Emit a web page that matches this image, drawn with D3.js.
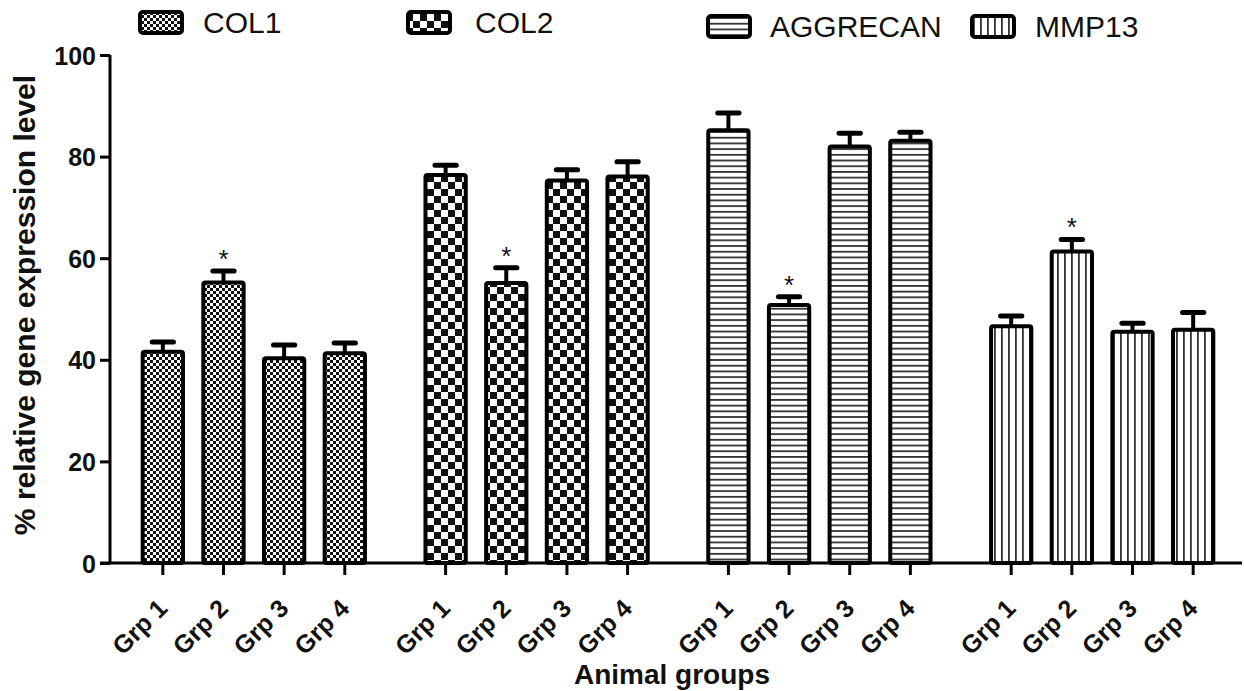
<!DOCTYPE html>
<html>
<head>
<meta charset="utf-8">
<script src="https://cdn.jsdelivr.net/npm/d3@7"></script>
<style>
  html, body { margin: 0; padding: 0; background: #fff; }
  svg { display: block; }
  text { font-family: Arial, "Liberation Sans", sans-serif; fill: #111; }
</style>
</head>
<body>
<svg id="chart" width="1244" height="691"></svg>
<script>
// ---- data ----
const genes = ["COL1", "COL2", "AGGRECAN", "MMP13"];
const groups = ["Grp 1", "Grp 2", "Grp 3", "Grp 4"];
const col1Values = [41.6, 55.2, 40.3, 41.3];
const col1Errors = [1.9, 2.3, 2.6, 2.0];
const col2Values = [76.4, 55.1, 75.3, 76.1];
const col2Errors = [1.9, 3.0, 2.1, 2.9];
const aggrecanValues = [85.2, 50.8, 82.0, 83.1];
const aggrecanErrors = [3.4, 1.6, 2.6, 1.7];
const mmp13Values = [46.6, 61.3, 45.5, 45.9];
const mmp13Errors = [2.0, 2.4, 1.7, 3.4];
const significantGroup = "Grp 2";
const yTicks = [0, 20, 40, 60, 80, 100];
const yTitle = "% relative gene expression level";
const xTitle = "Animal groups";

const seriesValues = [col1Values, col2Values, aggrecanValues, mmp13Values];
const seriesErrors = [col1Errors, col2Errors, aggrecanErrors, mmp13Errors];
const patternIds = ["pCol1", "pCol2", "pAgg", "pMmp"];

// ---- layout ----
const svg = d3.select("#chart");
const yTop = 55, yBottom = 563, xAxisLeft = 110, xAxisRight = 1242;

const y = d3.scaleLinear().domain([0, 100]).range([yBottom, yTop]);
const xOuter = d3.scaleBand().domain(genes).range([132.5, 1223.5]).paddingInner(0.142).paddingOuter(0);
const xInner = d3.scaleBand().domain(groups).range([0, xOuter.bandwidth()]).paddingInner(0.27).paddingOuter(0.135);

// ---- patterns ----
const defs = svg.append("defs");
const p1 = defs.append("pattern").attr("id", "pCol1").attr("patternUnits", "userSpaceOnUse")
  .attr("width", 6).attr("height", 6);
p1.append("rect").attr("width", 6).attr("height", 6).attr("fill", "#fff");
p1.append("rect").attr("x", 0).attr("y", 0).attr("width", 3).attr("height", 3).attr("fill", "#111");
p1.append("rect").attr("x", 3).attr("y", 3).attr("width", 3).attr("height", 3).attr("fill", "#111");
const p2 = defs.append("pattern").attr("id", "pCol2").attr("patternUnits", "userSpaceOnUse")
  .attr("width", 14).attr("height", 14);
p2.append("rect").attr("width", 14).attr("height", 14).attr("fill", "#fff");
p2.append("rect").attr("x", 0).attr("y", 0).attr("width", 7).attr("height", 7).attr("fill", "#111");
p2.append("rect").attr("x", 7).attr("y", 7).attr("width", 7).attr("height", 7).attr("fill", "#111");
const p3 = defs.append("pattern").attr("id", "pAgg").attr("patternUnits", "userSpaceOnUse")
  .attr("width", 10).attr("height", 5.7);
p3.append("rect").attr("width", 10).attr("height", 5.7).attr("fill", "#fff");
p3.append("rect").attr("x", 0).attr("y", 0).attr("width", 10).attr("height", 1.8).attr("fill", "#333");
const p4 = defs.append("pattern").attr("id", "pMmp").attr("patternUnits", "userSpaceOnUse")
  .attr("width", 7).attr("height", 10);
p4.append("rect").attr("width", 7).attr("height", 10).attr("fill", "#fff");
p4.append("rect").attr("x", 0).attr("y", 0).attr("width", 1.8).attr("height", 10).attr("fill", "#333");

// ---- bars ----
const barData = [];
genes.forEach((g, gi) => {
  groups.forEach((grp, i) => {
    barData.push({ gene: g, group: grp, value: seriesValues[gi][i], err: seriesErrors[gi][i], pattern: patternIds[gi] });
  });
});
const cx = d => xOuter(d.gene) + xInner(d.group) + xInner.bandwidth() / 2;
const bw = xInner.bandwidth();

const barG = svg.append("g");
barG.selectAll("line.err").data(barData).join("line").attr("class", "err")
  .attr("x1", cx).attr("x2", cx)
  .attr("y1", d => y(d.value)).attr("y2", d => y(d.value + d.err))
  .attr("stroke", "#000").attr("stroke-width", 4);
barG.selectAll("line.cap").data(barData).join("line").attr("class", "cap")
  .attr("x1", d => cx(d) - bw * 0.24).attr("x2", d => cx(d) + bw * 0.24)
  .attr("y1", d => y(d.value + d.err)).attr("y2", d => y(d.value + d.err))
  .attr("stroke", "#000").attr("stroke-width", 5).attr("stroke-linecap", "round");
barG.selectAll("rect.bar").data(barData).join("rect").attr("class", "bar")
  .attr("x", d => cx(d) - bw / 2 + 2).attr("width", bw - 4)
  .attr("y", d => y(d.value)).attr("height", d => y(0) - y(d.value))
  .attr("fill", d => `url(#${d.pattern})`)
  .attr("stroke", "#000").attr("stroke-width", 4).attr("rx", 2);

barG.selectAll("text.star").data(barData.filter(d => d.group === significantGroup)).join("text")
  .attr("class", "star")
  .attr("x", cx).attr("y", d => y(d.value + d.err) - 3)
  .attr("text-anchor", "middle").attr("font-size", 26).attr("fill", "#222")
  .text("*");

// ---- axes ----
const yAxis = d3.axisLeft(y).tickValues(yTicks).tickSize(10).tickPadding(4).tickFormat(d3.format("d"));
const yG = svg.append("g").attr("transform", `translate(${xAxisLeft},0)`).call(yAxis);
yG.select(".domain").attr("d", `M0,${yTop}V${yBottom}`).attr("stroke", "#000").attr("stroke-width", 3);
yG.selectAll(".tick line").attr("stroke", "#000").attr("stroke-width", 3);
yG.selectAll(".tick text").attr("font-size", 25).attr("font-weight", "bold")
  .attr("font-family", "Arial, 'Liberation Sans', sans-serif").attr("fill", "#111").attr("dy", "0.36em");

const xG = svg.append("g");
xG.append("line").attr("x1", xAxisLeft - 10).attr("x2", xAxisRight).attr("y1", yBottom).attr("y2", yBottom)
  .attr("stroke", "#000").attr("stroke-width", 3);
xG.selectAll("line.xt").data(barData).join("line").attr("class", "xt")
  .attr("x1", cx).attr("x2", cx).attr("y1", yBottom).attr("y2", yBottom + 12)
  .attr("stroke", "#000").attr("stroke-width", 3);
xG.selectAll("text.xl").data(barData).join("text").attr("class", "xl")
  .attr("transform", d => `translate(${cx(d) + 6},${yBottom + 47}) rotate(-45)`)
  .attr("text-anchor", "end").attr("font-size", 25).attr("font-weight", "bold")
  .text(d => d.group);

svg.append("text").attr("transform", `translate(35,305) rotate(-90)`)
  .attr("text-anchor", "middle").attr("font-size", 30).attr("font-weight", "bold").text(yTitle);
svg.append("text").attr("x", 672).attr("y", 684)
  .attr("text-anchor", "middle").attr("font-size", 28).attr("font-weight", "bold").text(xTitle);

// ---- legend ----
const legendPos = [
  { sx: 140, sy: 12, tx: 203, ty: 33 },
  { sx: 408, sy: 12, tx: 475, ty: 33 },
  { sx: 708, sy: 16, tx: 770, ty: 37 },
  { sx: 972, sy: 16, tx: 1035, ty: 37 }
];
const leg = svg.append("g").selectAll("g").data(genes).join("g");
leg.append("rect")
  .attr("x", (d, i) => legendPos[i].sx).attr("y", (d, i) => legendPos[i].sy)
  .attr("width", 42).attr("height", 21).attr("rx", 3)
  .attr("fill", (d, i) => `url(#${patternIds[i]})`)
  .attr("stroke", "#000").attr("stroke-width", 4);
leg.append("text")
  .attr("x", (d, i) => legendPos[i].tx).attr("y", (d, i) => legendPos[i].ty)
  .attr("font-size", 30).attr("fill", "#111").text(d => d);
</script>
</body>
</html>
